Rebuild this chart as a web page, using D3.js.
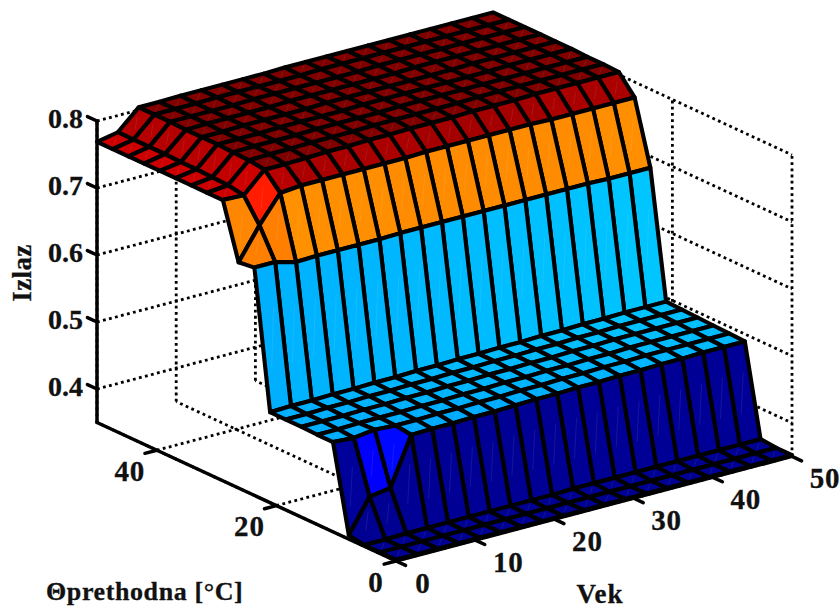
<!DOCTYPE html>
<html><head><meta charset="utf-8">
<script src="https://cdn.jsdelivr.net/npm/d3@7"></script>
<style>html,body{margin:0;padding:0;background:#fff}text{font-family:"Liberation Serif",serif;font-weight:bold;fill:#111;stroke:#111;stroke-width:.3px}</style>
</head><body><svg id="c" width="839" height="609"></svg>
<script>
const gridAge=[0,2.63,5.26,7.89,10.53,13.16,15.79,18.42,21.05,23.68,26.32,28.95,31.58,34.21,36.84,39.47,42.11,44.74,47.37,50];
const gridTheta=[0,2.63,5.26,7.89,10.53,13.16,15.79,18.42,21.05,23.68,26.32,28.95,31.58,34.21,36.84,39.47,42.11,44.74,47.37,50];
const ageTicks=[0,10,20,30,40,50];
const thetaTicks=[0,20,40];
const outTicks=[0.4,0.5,0.6,0.7,0.8];
const outTickLabels=["0.4","0.5","0.6","0.7","0.8"];
// output values: one row per theta grid value, one column per age grid value
const row00=[.352,.352,.352,.352,.352,.352,.352,.352,.352,.352,.352,.352,.352,.352,.352,.352,.352,.352,.352,.352];
const row01=[.352,.352,.352,.352,.352,.352,.352,.352,.352,.352,.352,.352,.352,.352,.352,.352,.352,.352,.352,.352];
const row02=[.352,.352,.353,.353,.353,.353,.353,.353,.353,.353,.354,.354,.354,.354,.354,.354,.354,.354,.354,.354];
const row03=[.356,.405,.410,.481,.482,.482,.483,.483,.484,.485,.485,.486,.486,.487,.487,.488,.488,.489,.489,.489];
const row04=[.484,.482,.486,.484,.484,.485,.485,.486,.486,.487,.487,.488,.488,.489,.489,.490,.490,.490,.490,.490];
const row05=[.484,.484,.485,.485,.485,.486,.486,.487,.487,.488,.488,.489,.489,.490,.490,.491,.491,.491,.491,.491];
const row06=[.485,.485,.485,.486,.486,.487,.487,.488,.488,.489,.489,.490,.490,.491,.491,.492,.492,.492,.492,.492];
const row07=[.485,.485,.486,.486,.487,.487,.488,.488,.489,.489,.490,.490,.491,.491,.492,.492,.493,.493,.493,.493];
const row08=[.485,.486,.486,.487,.487,.488,.488,.489,.489,.490,.490,.491,.491,.492,.492,.493,.493,.494,.494,.494];
const row09=[.690,.690,.682,.683,.683,.683,.683,.684,.684,.684,.684,.684,.684,.684,.684,.684,.684,.683,.683,.683];
const row10=[.687,.734,.774,.777,.777,.777,.777,.777,.777,.778,.778,.778,.778,.778,.778,.777,.777,.777,.777,.777];
const row11=[.769,.768,.798,.798,.799,.800,.800,.801,.801,.802,.802,.802,.803,.803,.803,.804,.804,.804,.804,.804];
const row12=[.769,.772,.801,.802,.802,.803,.803,.803,.804,.804,.804,.804,.804,.805,.805,.805,.805,.805,.805,.805];
const row13=[.769,.773,.802,.803,.803,.803,.804,.804,.804,.804,.805,.805,.805,.805,.805,.805,.805,.805,.805,.805];
const row14=[.769,.774,.803,.803,.803,.804,.804,.804,.804,.805,.805,.805,.805,.805,.805,.805,.806,.806,.806,.806];
const row15=[.769,.774,.803,.803,.804,.804,.804,.804,.805,.805,.805,.805,.805,.805,.805,.806,.806,.806,.806,.806];
const row16=[.769,.775,.803,.804,.804,.804,.804,.805,.805,.805,.805,.805,.805,.806,.806,.806,.806,.806,.806,.806];
const row17=[.769,.775,.804,.804,.804,.804,.805,.805,.805,.805,.805,.805,.806,.806,.806,.806,.806,.806,.806,.806];
const row18=[.769,.775,.804,.804,.804,.805,.805,.805,.805,.805,.806,.806,.806,.806,.806,.806,.806,.806,.806,.806];
const row19=[.769,.775,.804,.804,.805,.805,.805,.805,.805,.806,.806,.806,.806,.806,.806,.806,.806,.806,.806,.806];
const surfaceRows=[row00,row01,row02,row03,row04,row05,row06,row07,row08,row09,row10,row11,row12,row13,row14,row15,row16,row17,row18,row19];

const svg=d3.select("#c");
const ageX=d3.scaleLinear().domain([0,50]).range([396,792]);
const ageY=d3.scaleLinear().domain([0,50]).range([561,456.4]);
const thetaX=d3.scaleLinear().domain([0,50]).range([0,-299]);
const thetaY=d3.scaleLinear().domain([0,50]).range([0,-138.5]);
const outY=d3.scaleLinear().domain([.35,.8]).range([0,-301.5]);
const jet=d3.scaleLinear().domain([.35,.4066,.5199,.6331,.7464,.771,.778,.798]).range(["#00008f","#0000ff","#00ffff","#ffff00","#ff0000","#c80000","#a50000","#800000"]).clamp(true);
const P=(a,t,z)=>[ageX(a)+thetaX(t),ageY(a)+thetaY(t)+outY(z)];
const line=d3.line();
const zBot=.35,zTop=.8;

// dotted grid
const gridLines=[];
ageTicks.forEach(a=>{ if(a<50) gridLines.push([P(a,0,zBot),P(a,50,zBot)]); gridLines.push([P(a,50,zBot),P(a,50,zTop)]);});
thetaTicks.forEach(t=>{gridLines.push([P(0,t,zBot),P(50,t,zBot)]);gridLines.push([P(50,t,zBot),P(50,t,zTop)]);});
outTicks.forEach(z=>{gridLines.push([P(0,50,z),P(50,50,z)]);gridLines.push([P(50,50,z),P(50,0,z)]);});
svg.append("g").selectAll("path").data(gridLines).join("path").attr("d",d=>line(d))
  .attr("fill","none").attr("stroke","#000").attr("stroke-width",2.8).attr("stroke-dasharray","2.8 3.4");

// axes
const axisLines=[[P(0,50,zBot),P(0,50,zTop)],[P(0,50,zBot),P(0,0,zBot)],[P(0,0,zBot),P(50,0,zBot)]];
outTicks.forEach(z=>axisLines.push([P(0,50,z),P(0,51.6,z)]));
ageTicks.forEach(a=>axisLines.push([P(a,0,zBot),P(a,-1.6,zBot)]));
thetaTicks.forEach(t=>axisLines.push([P(0,t,zBot),P(-1.5,t,zBot)]));
svg.append("g").selectAll("path").data(axisLines).join("path").attr("d",d=>line(d))
  .attr("fill","none").attr("stroke","#000").attr("stroke-width",3.5).attr("stroke-linecap","round");

// surface facets, far to near
const facets=[];
for(let i=gridTheta.length-2;i>=0;i--)for(let j=gridAge.length-2;j>=0;j--){
  facets.push({i,j,pts:[P(gridAge[j],gridTheta[i],surfaceRows[i][j]),P(gridAge[j+1],gridTheta[i],surfaceRows[i][j+1]),
    P(gridAge[j+1],gridTheta[i+1],surfaceRows[i+1][j+1]),P(gridAge[j],gridTheta[i+1],surfaceRows[i+1][j])],c:jet(surfaceRows[i][j])});
}
const fg=svg.append("g").selectAll("g").data(facets).join("g");
fg.append("path").attr("d",d=>line(d.pts)+"Z").attr("fill",d=>d.c).attr("stroke","#000").attr("stroke-width",4.1).attr("stroke-linejoin","round");
fg.append("path").attr("d",d=>{const a=d.pts[0],c=d.pts[2];const m=.3;
   return line([[a[0]+(c[0]-a[0])*m,a[1]+(c[1]-a[1])*m],[c[0]-(c[0]-a[0])*m,c[1]-(c[1]-a[1])*m]]);})
  .attr("fill","none").attr("stroke","#fff").attr("stroke-opacity",.14).attr("stroke-width",.6);

// labels
const tx=svg.append("g").attr("font-size",29);
outTicks.forEach((z,k)=>{const p=P(0,50,z);tx.append("text").attr("x",p[0]-14).attr("y",p[1]-3).attr("dy",".34em").attr("text-anchor","end").attr("font-size",28).text(outTickLabels[k]);});
ageTicks.forEach(a=>{const p=P(a,0,zBot);tx.append("text").attr("x",p[0]+(a===0?27:33)).attr("y",p[1]+22).attr("dy",".34em").attr("text-anchor","middle").attr("letter-spacing",.8).text(a);});
thetaTicks.forEach(t=>{const p=P(0,t,zBot);tx.append("text").attr("x",p[0]+(t===0?-20:-27)).attr("y",p[1]+21).attr("dy",".34em").attr("text-anchor","middle").attr("letter-spacing",.8).text(t);});
tx.append("text").attr("x",600).attr("y",603).attr("text-anchor","middle").attr("font-size",27).attr("letter-spacing",1).text("Vek");
tx.append("text").attr("transform","translate(31,273) rotate(-90)").attr("text-anchor","middle").attr("font-size",27).attr("letter-spacing",.4).text("Izlaz");
tx.append("text").attr("x",46).attr("y",600).attr("font-size",26).attr("letter-spacing",.6).text("Θprethodna [°C]");
</script></body></html>
